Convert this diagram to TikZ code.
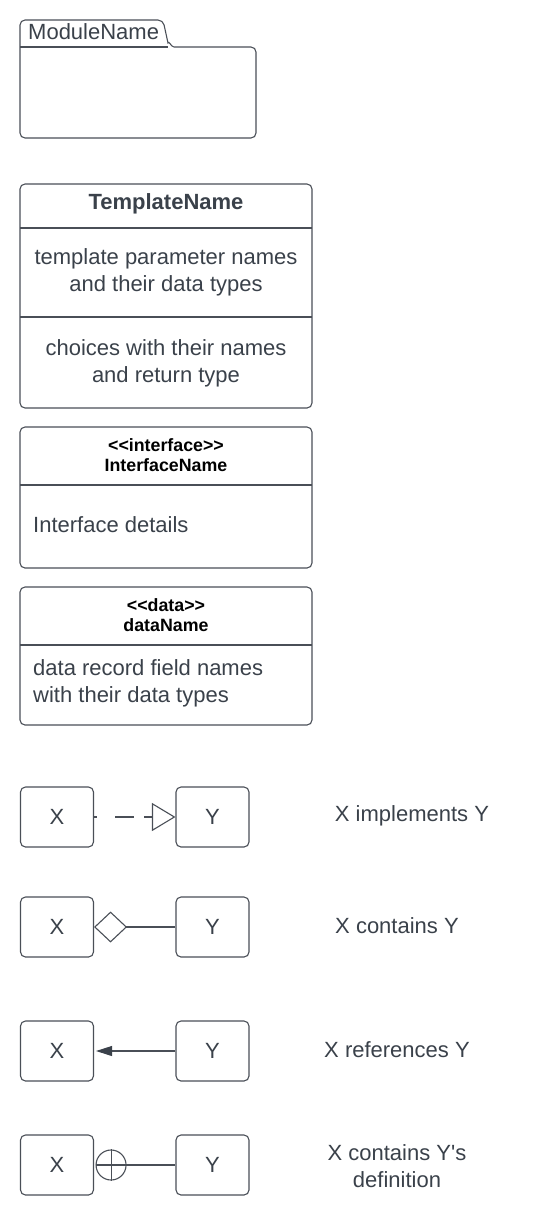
\documentclass[tikz,border=0pt]{standalone}
\usepackage{fontspec}
\setmainfont{Liberation Sans}
\usetikzlibrary{arrows.meta,calc}
\definecolor{ink}{HTML}{3A414A}
\definecolor{edge}{HTML}{4A4F57}
\tikzset{
  box/.style={draw=edge,line width=1.1pt,rounded corners=5pt,minimum width=73pt,minimum height=60pt,inner sep=0pt,text=ink,font=\fontsize{22}{27}\selectfont},
  txt/.style={text=ink,font=\fontsize{22}{27}\selectfont,inner sep=0pt,align=center},
  stereo/.style={text=black,font=\bfseries\fontsize{17.8}{20}\selectfont,inner sep=0pt,align=center},
  conn/.style={draw=edge,line width=1.1pt},
  frame/.style={draw=edge,line width=1.1pt,rounded corners=5pt},
  sep/.style={draw=edge,line width=1.1pt}
}
\begin{document}
\begin{tikzpicture}[x=1pt,y=-1pt]
\useasboundingbox (0,0) rectangle (551,1216);
% Module
\draw[frame] (20,47) -- (20,20) -- (163,20) [sharp corners] -- (168,43) to[out=70,in=180] (174,47) [rounded corners=5pt] -- (256,47) -- (256,138) -- (20,138) -- cycle;
\draw[sep] (20,47) -- (168,47);
\node[txt,anchor=base west] (modname) at (28,39) {ModuleName};
% Template
\draw[frame] (20,184) rectangle (312,408);
\draw[sep] (20,228) -- (312,228);
\draw[sep] (20,317) -- (312,317);
\node[txt,font=\bfseries\fontsize{22}{27}\selectfont] (tname) at (166,204) {TemplateName};
\node[txt] (tparams) at (166,272) {template parameter names\\and their data types};
\node[txt] (tchoices) at (166,363) {choices with their names\\and return type};
% Interface
\draw[frame] (20,427) rectangle (312,568);
\draw[sep] (20,485) -- (312,485);
\node[stereo] (iname) at (166,455) {<{}<interface>{}>\\InterfaceName};
\node[txt,anchor=west] (idetails) at (33,525) {Interface details};
% Data
\draw[frame] (20,587) rectangle (312,725);
\draw[sep] (20,645) -- (312,645);
\node[stereo] (dname) at (166,615) {<{}<data>{}>\\dataName};
\node[txt,align=left,anchor=west] (dfields) at (33,683) {data record field names\\with their data types};
% Relations
\node[box] (x1) at (57,817) {X};
\node[box] (y1) at (212.5,817) {Y};
\node[txt] (l1) at (412,816) {X implements Y};
\draw[conn,dash pattern=on 3.4pt off 17.6pt on 19pt off 10pt on 10pt off 100pt,-{Triangle[open,length=23.5pt,width=28pt,line width=1.1pt]}] (x1.east) -- (y1.west);

\node[box] (x2) at (57,927) {X};
\node[box] (y2) at (212.5,927) {Y};
\node[txt] (l2) at (397,926) {X contains Y};
\draw[conn,{Diamond[open,length=33pt,width=31pt,line width=1.1pt]}-] (x2.east) -- (y2.west);

\node[box] (x3) at (57,1051) {X};
\node[box] (y3) at (212.5,1051) {Y};
\node[txt] (l3) at (397,1050) {X references Y};
\draw[conn,-{Triangle[length=16pt,width=10pt,color=ink]},shorten >=2pt] (y3.west) -- (x3.east);

\node[box] (x4) at (57,1165) {X};
\node[box] (y4) at (212.5,1165) {Y};
\node[txt] (l4) at (397,1166) {X contains Y\textquotesingle s\\definition};
\node[circle,draw=edge,line width=1.1pt,minimum size=30pt,inner sep=0pt] (cp) at ($(x4.east)+(17,0)$) {};
\draw[conn] (cp.north) -- (cp.south);
\draw[conn] (cp.west) -- (cp.east);
\draw[conn] (cp.east) -- (y4.west);
\end{tikzpicture}
\end{document}
